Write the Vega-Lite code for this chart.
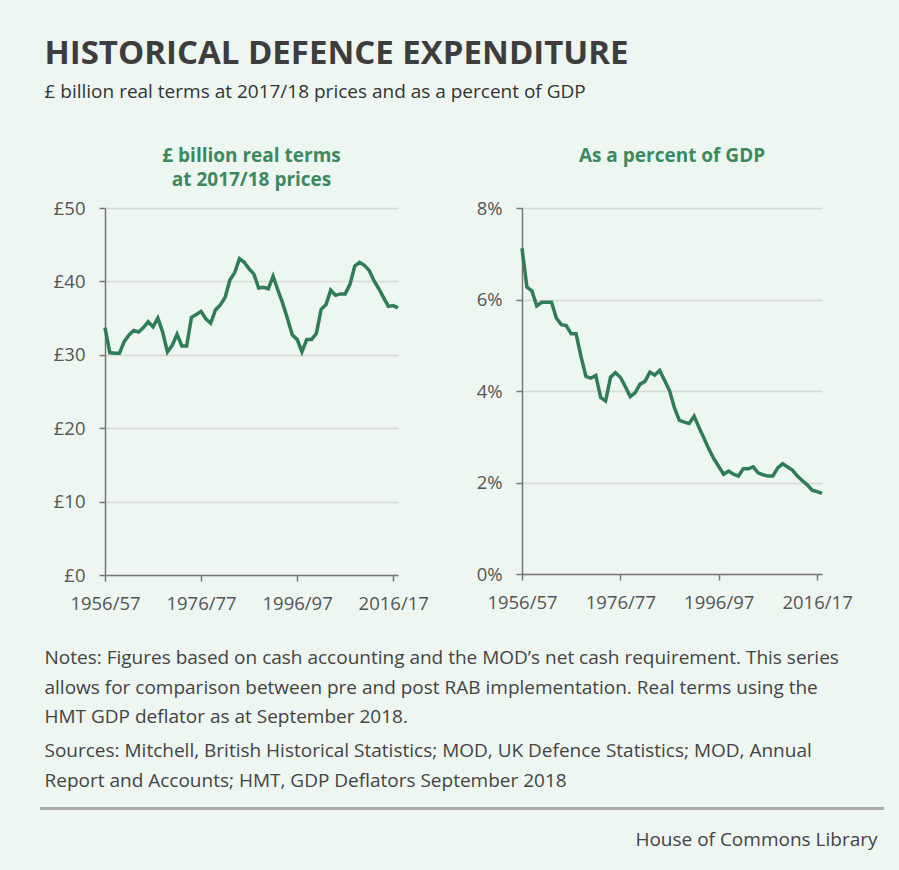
{
  "$schema": "https://vega.github.io/schema/vega-lite/v6.json",
  "background": "#edf6f1",
  "padding": {"left": 38, "top": 37, "right": 15, "bottom": 22},
  "config": {"font": "Open Sans", "view": {"stroke": null}},
  "title": {
    "text": "HISTORICAL DEFENCE EXPENDITURE",
    "subtitle": "£ billion real terms at 2017/18 prices and as a percent of GDP",
    "anchor": "start", "frame": "bounds", "dx": 6,
    "fontSize": 33, "fontWeight": "bold", "color": "#3d3d3d",
    "subtitleFontSize": 19, "subtitleColor": "#333333", "subtitlePadding": 12.5,
    "offset": 45
  },
  "datasets": {
    "defence": [
      {"year": 1956, "bn": 33.7, "pct": 7.12},
      {"year": 1957, "bn": 30.3, "pct": 6.27},
      {"year": 1958, "bn": 30.2, "pct": 6.19},
      {"year": 1959, "bn": 30.2, "pct": 5.86},
      {"year": 1960, "bn": 31.8, "pct": 5.94},
      {"year": 1961, "bn": 32.7, "pct": 5.94},
      {"year": 1962, "bn": 33.3, "pct": 5.94},
      {"year": 1963, "bn": 33.1, "pct": 5.59},
      {"year": 1964, "bn": 33.7, "pct": 5.45},
      {"year": 1965, "bn": 34.5, "pct": 5.43},
      {"year": 1966, "bn": 33.8, "pct": 5.25},
      {"year": 1967, "bn": 35.0, "pct": 5.25},
      {"year": 1968, "bn": 33.1, "pct": 4.75},
      {"year": 1969, "bn": 30.4, "pct": 4.32},
      {"year": 1970, "bn": 31.3, "pct": 4.28},
      {"year": 1971, "bn": 32.8, "pct": 4.34},
      {"year": 1972, "bn": 31.2, "pct": 3.86},
      {"year": 1973, "bn": 31.2, "pct": 3.78},
      {"year": 1974, "bn": 35.1, "pct": 4.30},
      {"year": 1975, "bn": 35.5, "pct": 4.40},
      {"year": 1976, "bn": 35.9, "pct": 4.30},
      {"year": 1977, "bn": 34.9, "pct": 4.10},
      {"year": 1978, "bn": 34.3, "pct": 3.88},
      {"year": 1979, "bn": 36.1, "pct": 3.96},
      {"year": 1980, "bn": 36.8, "pct": 4.15},
      {"year": 1981, "bn": 37.8, "pct": 4.21},
      {"year": 1982, "bn": 40.2, "pct": 4.41},
      {"year": 1983, "bn": 41.2, "pct": 4.35},
      {"year": 1984, "bn": 43.1, "pct": 4.45},
      {"year": 1985, "bn": 42.6, "pct": 4.23},
      {"year": 1986, "bn": 41.7, "pct": 4.01},
      {"year": 1987, "bn": 41.0, "pct": 3.63},
      {"year": 1988, "bn": 39.1, "pct": 3.36},
      {"year": 1989, "bn": 39.2, "pct": 3.32},
      {"year": 1990, "bn": 39.0, "pct": 3.29},
      {"year": 1991, "bn": 40.7, "pct": 3.45},
      {"year": 1992, "bn": 38.8, "pct": 3.20},
      {"year": 1993, "bn": 37.0, "pct": 2.97},
      {"year": 1994, "bn": 34.9, "pct": 2.73},
      {"year": 1995, "bn": 32.7, "pct": 2.52},
      {"year": 1996, "bn": 32.1, "pct": 2.35},
      {"year": 1997, "bn": 30.4, "pct": 2.18},
      {"year": 1998, "bn": 32.1, "pct": 2.25},
      {"year": 1999, "bn": 32.1, "pct": 2.18},
      {"year": 2000, "bn": 32.9, "pct": 2.14},
      {"year": 2001, "bn": 36.2, "pct": 2.30},
      {"year": 2002, "bn": 36.8, "pct": 2.30},
      {"year": 2003, "bn": 38.8, "pct": 2.34},
      {"year": 2004, "bn": 38.1, "pct": 2.21},
      {"year": 2005, "bn": 38.3, "pct": 2.17},
      {"year": 2006, "bn": 38.3, "pct": 2.14},
      {"year": 2007, "bn": 39.6, "pct": 2.14},
      {"year": 2008, "bn": 42.1, "pct": 2.32},
      {"year": 2009, "bn": 42.6, "pct": 2.41},
      {"year": 2010, "bn": 42.2, "pct": 2.34},
      {"year": 2011, "bn": 41.5, "pct": 2.27},
      {"year": 2012, "bn": 40.1, "pct": 2.14},
      {"year": 2013, "bn": 39.0, "pct": 2.04},
      {"year": 2014, "bn": 37.8, "pct": 1.95},
      {"year": 2015, "bn": 36.6, "pct": 1.83},
      {"year": 2016, "bn": 36.7, "pct": 1.80},
      {"year": 2017, "bn": 36.4, "pct": 1.76}
    ]
  },
  "spacing": 36,
  "vconcat": [
    {
      "spacing": 47,
      "hconcat": [
        {
          "width": 293, "height": 367,
          "data": {"name": "defence"},
          "title": {"text": ["£ billion real terms", "at 2017/18 prices"], "fontSize": 19, "fontWeight": "bold", "color": "#3b8a5e", "lineHeight": 24, "offset": 9},
          "mark": {"type": "line", "color": "#2e7d57", "strokeWidth": 3.5},
          "encoding": {
            "x": {"field": "year", "type": "quantitative",
              "scale": {"domain": [1956, 2017], "nice": false, "zero": false},
              "axis": {"title": null, "values": [1956, 1976, 1996, 2016], "labelExpr": "datum.value + '/' + slice(toString(datum.value + 1), 2)", "grid": false, "labelFlush": false, "labelOverlap": false, "domainColor": "#777777", "domainWidth": 1.5, "tickColor": "#777777", "tickWidth": 1.5, "tickSize": 6, "labelFontSize": 18.5, "labelColor": "#555555", "labelPadding": 13.5}},
            "y": {"field": "bn", "type": "quantitative",
              "scale": {"domain": [0, 50], "nice": false},
              "axis": {"title": null, "values": [0, 10, 20, 30, 40, 50], "labelExpr": "'£' + datum.value", "grid": true, "gridColor": "#d9d9d9", "gridWidth": 1.5, "domainColor": "#777777", "domainWidth": 1.5, "tickColor": "#777777", "tickWidth": 1.5, "tickSize": 6, "labelFontSize": 18.5, "labelColor": "#555555", "labelPadding": 14}}
          }
        },
        {
          "width": 300, "height": 366,
          "data": {"name": "defence"},
          "title": {"text": "As a percent of GDP", "fontSize": 19, "fontWeight": "bold", "color": "#3b8a5e", "lineHeight": 24, "offset": 33},
          "mark": {"type": "line", "color": "#2e7d57", "strokeWidth": 3.5},
          "encoding": {
            "x": {"field": "year", "type": "quantitative",
              "scale": {"domain": [1956, 2017], "nice": false, "zero": false},
              "axis": {"title": null, "values": [1956, 1976, 1996, 2016], "labelExpr": "datum.value + '/' + slice(toString(datum.value + 1), 2)", "grid": false, "labelFlush": false, "labelOverlap": false, "domainColor": "#777777", "domainWidth": 1.5, "tickColor": "#777777", "tickWidth": 1.5, "tickSize": 6, "labelFontSize": 18.5, "labelColor": "#555555", "labelPadding": 13.5}},
            "y": {"field": "pct", "type": "quantitative",
              "scale": {"domain": [0, 8], "nice": false},
              "axis": {"title": null, "values": [0, 2, 4, 6, 8], "labelExpr": "datum.value + '%'", "grid": true, "gridColor": "#d9d9d9", "gridWidth": 1.5, "domainColor": "#777777", "domainWidth": 1.5, "tickColor": "#777777", "tickWidth": 1.5, "tickSize": 6, "labelFontSize": 18.5, "labelColor": "#555555", "labelPadding": 14}}
          }
        }
      ]
    },
    {
      "width": 779, "height": 1,
      "data": {"values": [{}]},
      "title": {
        "text": ["Notes: Figures based on cash accounting and the MOD’s net cash requirement. This series", "allows for comparison between pre and post RAB implementation. Real terms using the", "HMT GDP deflator as at September 2018."],
        "subtitle": ["Sources: Mitchell, British Historical Statistics; MOD, UK Defence Statistics; MOD, Annual", "Report and Accounts; HMT, GDP Deflators September 2018"],
        "anchor": "start", "dx": 6, "fontSize": 19, "fontWeight": "normal", "color": "#444444", "lineHeight": 29.5,
        "subtitleFontSize": 19, "subtitleColor": "#444444", "subtitleLineHeight": 29.5, "subtitlePadding": 15, "offset": 16.5
      },
      "mark": {"type": "rule", "color": "#aaaaaa", "strokeWidth": 3},
      "encoding": {
        "x": {"datum": -0.08344, "type": "quantitative", "scale": {"domain": [0, 1], "nice": false, "zero": false},
          "axis": {"orient": "bottom", "title": "House of Commons Library", "titleFontSize": 19, "titleFontWeight": "normal", "titleColor": "#444444", "titleAlign": "right", "titleAnchor": "end", "titleX": 772, "titlePadding": 21.5, "labels": false, "ticks": false, "grid": false, "domain": false}},
        "x2": {"datum": 1}
      }
    }
  ]
}
